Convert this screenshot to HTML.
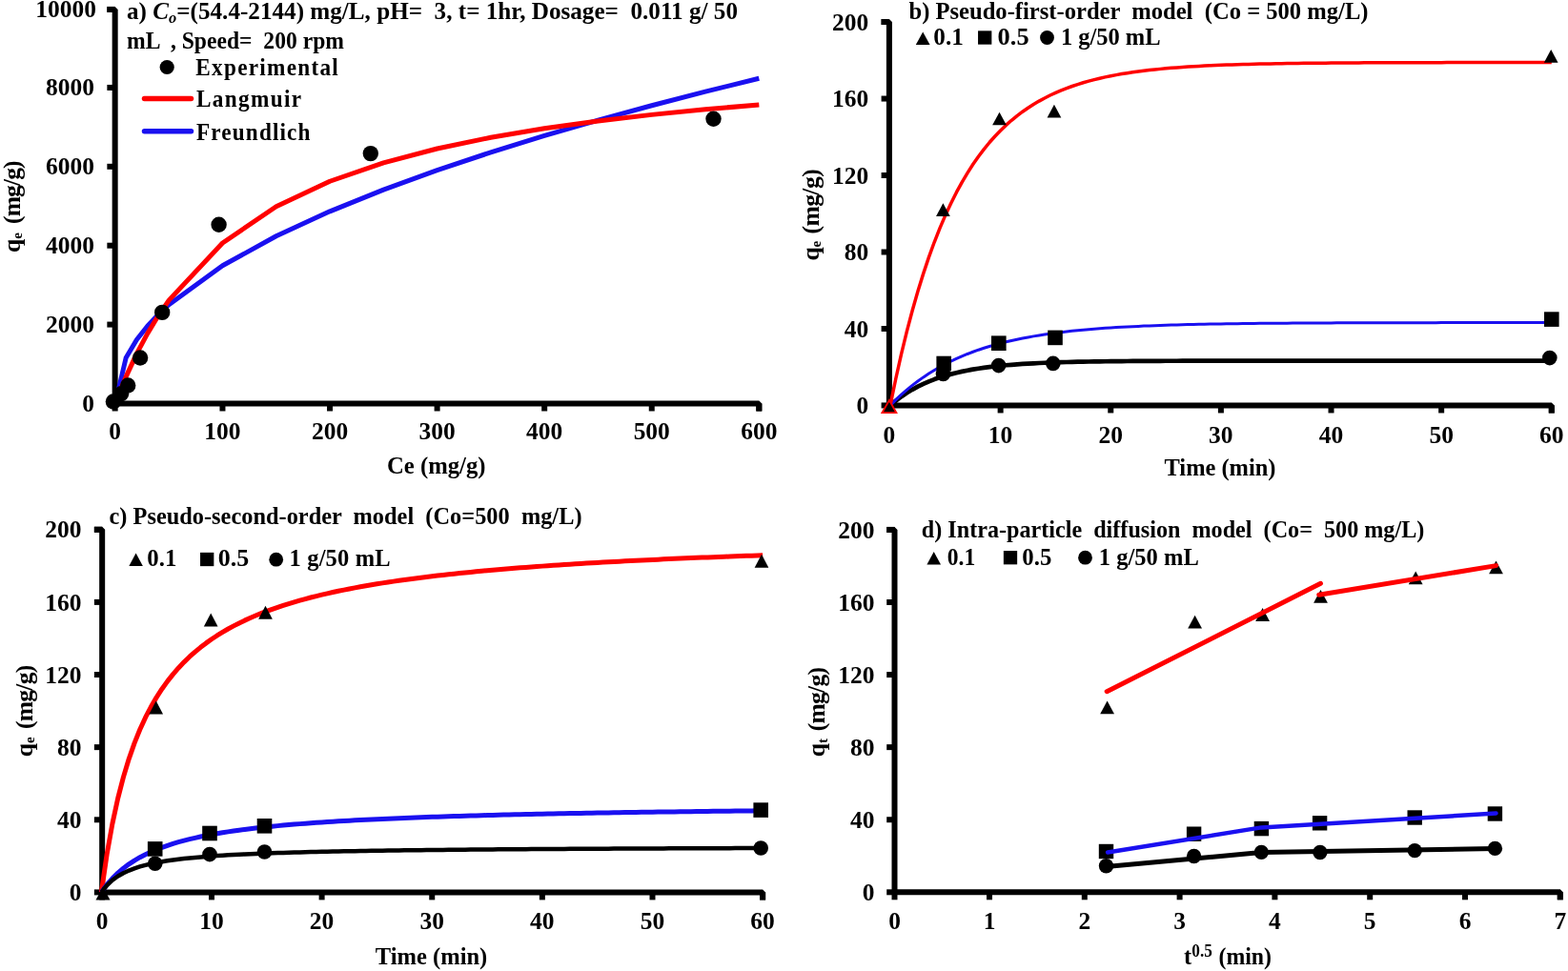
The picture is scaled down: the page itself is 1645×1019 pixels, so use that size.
<!DOCTYPE html>
<html><head><meta charset="utf-8"><style>
html,body{margin:0;padding:0;background:#fff;}
svg{display:block;}
text{font-family:"Liberation Serif", "Times New Roman", serif;font-weight:bold;fill:#000;white-space:pre;}
</style></head><body>
<svg width="1645" height="1019" viewBox="0 0 1645 1019" xml:space="preserve">
<rect width="1645" height="1019" fill="#fff"/>
<path d="M112.36,9.90 H120.66 V423.47 H796.32 V431.47" fill="none" stroke="#000" stroke-width="6.0" stroke-linejoin="bevel"/>
<line x1="112.36" y1="423.47" x2="120.66" y2="423.47" stroke="#000" stroke-width="6.0" stroke-linecap="butt"/>
<line x1="112.36" y1="340.58" x2="120.66" y2="340.58" stroke="#000" stroke-width="6.0" stroke-linecap="butt"/>
<line x1="112.36" y1="257.70" x2="120.66" y2="257.70" stroke="#000" stroke-width="6.0" stroke-linecap="butt"/>
<line x1="112.36" y1="174.81" x2="120.66" y2="174.81" stroke="#000" stroke-width="6.0" stroke-linecap="butt"/>
<line x1="112.36" y1="91.93" x2="120.66" y2="91.93" stroke="#000" stroke-width="6.0" stroke-linecap="butt"/>
<line x1="112.36" y1="9.90" x2="120.66" y2="9.90" stroke="#000" stroke-width="6.0" stroke-linecap="butt"/>
<line x1="120.66" y1="423.47" x2="120.66" y2="431.47" stroke="#000" stroke-width="6.0" stroke-linecap="butt"/>
<line x1="233.47" y1="423.47" x2="233.47" y2="431.47" stroke="#000" stroke-width="6.0" stroke-linecap="butt"/>
<line x1="346.04" y1="423.47" x2="346.04" y2="431.47" stroke="#000" stroke-width="6.0" stroke-linecap="butt"/>
<line x1="458.61" y1="423.47" x2="458.61" y2="431.47" stroke="#000" stroke-width="6.0" stroke-linecap="butt"/>
<line x1="571.18" y1="423.47" x2="571.18" y2="431.47" stroke="#000" stroke-width="6.0" stroke-linecap="butt"/>
<line x1="683.75" y1="423.47" x2="683.75" y2="431.47" stroke="#000" stroke-width="6.0" stroke-linecap="butt"/>
<line x1="796.32" y1="423.47" x2="796.32" y2="431.47" stroke="#000" stroke-width="6.0" stroke-linecap="butt"/>
<text x="99.00" y="431.87" font-size="24.5" text-anchor="end" textLength="12.7" lengthAdjust="spacingAndGlyphs">0</text>
<text x="99.00" y="348.98" font-size="24.5" text-anchor="end" textLength="51.0" lengthAdjust="spacingAndGlyphs">2000</text>
<text x="99.00" y="266.10" font-size="24.5" text-anchor="end" textLength="51.0" lengthAdjust="spacingAndGlyphs">4000</text>
<text x="99.00" y="183.21" font-size="24.5" text-anchor="end" textLength="51.0" lengthAdjust="spacingAndGlyphs">6000</text>
<text x="99.00" y="100.33" font-size="24.5" text-anchor="end" textLength="51.0" lengthAdjust="spacingAndGlyphs">8000</text>
<text x="101.00" y="18.30" font-size="24.5" text-anchor="end" textLength="63.7" lengthAdjust="spacingAndGlyphs">10000</text>
<text x="120.66" y="460.70" font-size="24.5" text-anchor="middle" textLength="12.7" lengthAdjust="spacingAndGlyphs">0</text>
<text x="233.47" y="460.70" font-size="24.5" text-anchor="middle" textLength="38.2" lengthAdjust="spacingAndGlyphs">100</text>
<text x="346.04" y="460.70" font-size="24.5" text-anchor="middle" textLength="38.2" lengthAdjust="spacingAndGlyphs">200</text>
<text x="458.61" y="460.70" font-size="24.5" text-anchor="middle" textLength="38.2" lengthAdjust="spacingAndGlyphs">300</text>
<text x="571.18" y="460.70" font-size="24.5" text-anchor="middle" textLength="38.2" lengthAdjust="spacingAndGlyphs">400</text>
<text x="683.75" y="460.70" font-size="24.5" text-anchor="middle" textLength="38.2" lengthAdjust="spacingAndGlyphs">500</text>
<text x="796.32" y="460.70" font-size="24.5" text-anchor="middle" textLength="38.2" lengthAdjust="spacingAndGlyphs">600</text>
<text x="406.00" y="497.10" font-size="24.5" text-anchor="start" textLength="103.5" lengthAdjust="spacingAndGlyphs">Ce (mg/g)</text>
<text transform="translate(20.60,201.70) rotate(-90)" font-size="25.5" text-anchor="middle" textLength="66.6" lengthAdjust="spacing">(mg/g)</text>
<text transform="translate(20.60,265.00) rotate(-90)" font-size="25.5">q<tspan font-size="15" dy="2.5">e</tspan></text>
<polyline points="120.90,423.47 132.16,375.46 143.41,356.55 154.67,342.21 165.93,330.20 177.19,319.68 233.47,278.81 289.75,247.80 346.04,221.85 402.32,199.10 458.61,178.63 514.89,159.86 571.18,142.45 627.46,126.14 683.75,110.75 740.03,96.14 796.32,82.21" fill="none" stroke="#1a10f0" stroke-width="5" stroke-linejoin="round" stroke-linecap="butt"/>
<polyline points="120.90,423.47 126.53,408.88 132.16,395.38 143.41,371.17 154.67,350.08 165.93,331.56 177.19,315.15 233.47,255.00 289.75,216.74 346.04,190.26 402.32,170.84 458.61,155.99 514.89,144.27 571.18,134.78 627.46,126.95 683.75,120.36 740.03,114.76 796.32,109.92" fill="none" stroke="#ff0000" stroke-width="5" stroke-linejoin="round" stroke-linecap="butt"/>
<circle cx="118.90" cy="421.50" r="8.2" fill="#000"/>
<circle cx="127.10" cy="413.20" r="8.2" fill="#000"/>
<circle cx="134.20" cy="404.50" r="8.2" fill="#000"/>
<circle cx="147.10" cy="375.50" r="8.2" fill="#000"/>
<circle cx="170.20" cy="327.90" r="8.2" fill="#000"/>
<circle cx="229.60" cy="235.80" r="8.2" fill="#000"/>
<circle cx="388.80" cy="161.10" r="8.2" fill="#000"/>
<circle cx="748.50" cy="124.80" r="8.2" fill="#000"/>
<text x="133" y="20" font-size="24.5" textLength="641" lengthAdjust="spacingAndGlyphs">a) <tspan font-style="italic">C</tspan><tspan font-style="italic" font-size="16" dy="4">o</tspan><tspan dy="-4">=(54.4-2144) mg/L, pH=  3, t= 1hr, Dosage=  0.011 g/ 50</tspan></text>
<text x="133.00" y="50.50" font-size="24.5" text-anchor="start" textLength="228.0" lengthAdjust="spacingAndGlyphs">mL  , Speed=  200 rpm</text>
<circle cx="175.20" cy="70.50" r="7.6" fill="#000"/>
<text transform="translate(205.30,79.20) scale(0.95,1)" font-size="24.5" textLength="157.4" lengthAdjust="spacing">Experimental</text>
<line x1="151.50" y1="103.50" x2="200.50" y2="103.50" stroke="#ff0000" stroke-width="5.5" stroke-linecap="round"/>
<text transform="translate(206.00,112.40) scale(0.95,1)" font-size="24.5" textLength="115.8" lengthAdjust="spacing">Langmuir</text>
<line x1="151.50" y1="137.80" x2="200.50" y2="137.80" stroke="#1a10f0" stroke-width="5.5" stroke-linecap="round"/>
<text transform="translate(206.00,146.50) scale(0.95,1)" font-size="24.5" textLength="125.8" lengthAdjust="spacing">Freundlich</text>
<path d="M924.60,23.07 H932.90 V425.45 H1627.78 V433.45" fill="none" stroke="#000" stroke-width="6.0" stroke-linejoin="bevel"/>
<line x1="924.60" y1="425.45" x2="932.90" y2="425.45" stroke="#000" stroke-width="6.0" stroke-linecap="butt"/>
<line x1="924.60" y1="344.97" x2="932.90" y2="344.97" stroke="#000" stroke-width="6.0" stroke-linecap="butt"/>
<line x1="924.60" y1="264.50" x2="932.90" y2="264.50" stroke="#000" stroke-width="6.0" stroke-linecap="butt"/>
<line x1="924.60" y1="184.02" x2="932.90" y2="184.02" stroke="#000" stroke-width="6.0" stroke-linecap="butt"/>
<line x1="924.60" y1="103.55" x2="932.90" y2="103.55" stroke="#000" stroke-width="6.0" stroke-linecap="butt"/>
<line x1="924.60" y1="23.07" x2="932.90" y2="23.07" stroke="#000" stroke-width="6.0" stroke-linecap="butt"/>
<line x1="932.90" y1="425.45" x2="932.90" y2="433.45" stroke="#000" stroke-width="6.0" stroke-linecap="butt"/>
<line x1="1049.63" y1="425.45" x2="1049.63" y2="433.45" stroke="#000" stroke-width="6.0" stroke-linecap="butt"/>
<line x1="1165.26" y1="425.45" x2="1165.26" y2="433.45" stroke="#000" stroke-width="6.0" stroke-linecap="butt"/>
<line x1="1280.89" y1="425.45" x2="1280.89" y2="433.45" stroke="#000" stroke-width="6.0" stroke-linecap="butt"/>
<line x1="1396.52" y1="425.45" x2="1396.52" y2="433.45" stroke="#000" stroke-width="6.0" stroke-linecap="butt"/>
<line x1="1512.15" y1="425.45" x2="1512.15" y2="433.45" stroke="#000" stroke-width="6.0" stroke-linecap="butt"/>
<line x1="1627.78" y1="425.45" x2="1627.78" y2="433.45" stroke="#000" stroke-width="6.0" stroke-linecap="butt"/>
<text x="911.30" y="434.35" font-size="24.5" text-anchor="end" textLength="12.7" lengthAdjust="spacingAndGlyphs">0</text>
<text x="911.30" y="353.87" font-size="24.5" text-anchor="end" textLength="25.5" lengthAdjust="spacingAndGlyphs">40</text>
<text x="911.30" y="273.40" font-size="24.5" text-anchor="end" textLength="25.5" lengthAdjust="spacingAndGlyphs">80</text>
<text x="911.30" y="192.92" font-size="24.5" text-anchor="end" textLength="38.2" lengthAdjust="spacingAndGlyphs">120</text>
<text x="911.30" y="112.45" font-size="24.5" text-anchor="end" textLength="38.2" lengthAdjust="spacingAndGlyphs">160</text>
<text x="911.30" y="31.97" font-size="24.5" text-anchor="end" textLength="38.2" lengthAdjust="spacingAndGlyphs">200</text>
<text x="932.90" y="465.10" font-size="24.5" text-anchor="middle" textLength="12.7" lengthAdjust="spacingAndGlyphs">0</text>
<text x="1049.63" y="465.10" font-size="24.5" text-anchor="middle" textLength="25.5" lengthAdjust="spacingAndGlyphs">10</text>
<text x="1165.26" y="465.10" font-size="24.5" text-anchor="middle" textLength="25.5" lengthAdjust="spacingAndGlyphs">20</text>
<text x="1280.89" y="465.10" font-size="24.5" text-anchor="middle" textLength="25.5" lengthAdjust="spacingAndGlyphs">30</text>
<text x="1396.52" y="465.10" font-size="24.5" text-anchor="middle" textLength="25.5" lengthAdjust="spacingAndGlyphs">40</text>
<text x="1512.15" y="465.10" font-size="24.5" text-anchor="middle" textLength="25.5" lengthAdjust="spacingAndGlyphs">50</text>
<text x="1627.78" y="465.10" font-size="24.5" text-anchor="middle" textLength="25.5" lengthAdjust="spacingAndGlyphs">60</text>
<text x="1221.50" y="498.70" font-size="24.5" text-anchor="start" textLength="117.0" lengthAdjust="spacingAndGlyphs">Time (min)</text>
<text transform="translate(858.70,211.45) rotate(-90)" font-size="25.5" text-anchor="middle" textLength="68.3" lengthAdjust="spacing">(mg/g)</text>
<text transform="translate(858.70,273.60) rotate(-90)" font-size="25.5">q<tspan font-size="15" dy="2.5">e</tspan></text>
<polyline points="934.00,425.45 939.78,420.59 945.56,416.23 951.34,412.32 957.13,408.82 962.91,405.69 968.69,402.87 974.47,400.35 980.25,398.09 986.03,396.07 991.82,394.26 997.60,392.63 1003.38,391.17 1009.16,389.86 1014.94,388.69 1020.72,387.64 1026.50,386.70 1032.29,385.86 1038.07,385.10 1043.85,384.43 1049.63,383.82 1055.41,383.27 1061.19,382.79 1066.97,382.35 1072.76,381.96 1078.54,381.61 1084.32,381.29 1090.10,381.01 1095.88,380.76 1101.66,380.53 1107.44,380.33 1113.23,380.15 1119.01,379.98 1124.79,379.84 1130.57,379.71 1136.35,379.59 1142.13,379.48 1147.92,379.39 1153.70,379.30 1159.48,379.23 1165.26,379.16 1171.04,379.10 1176.82,379.04 1182.60,379.00 1188.39,378.95 1194.17,378.91 1199.95,378.88 1205.73,378.85 1211.51,378.82 1217.29,378.79 1223.08,378.77 1228.86,378.75 1234.64,378.73 1240.42,378.71 1246.20,378.70 1251.98,378.69 1257.76,378.67 1263.55,378.66 1269.33,378.65 1275.11,378.65 1280.89,378.64 1286.67,378.63 1292.45,378.63 1298.23,378.62 1304.02,378.62 1309.80,378.61 1315.58,378.61 1321.36,378.60 1327.14,378.60 1332.92,378.60 1338.70,378.59 1344.49,378.59 1350.27,378.59 1356.05,378.59 1361.83,378.59 1367.61,378.59 1373.39,378.58 1379.18,378.58 1384.96,378.58 1390.74,378.58 1396.52,378.58 1402.30,378.58 1408.08,378.58 1413.86,378.58 1419.65,378.58 1425.43,378.58 1431.21,378.58 1436.99,378.58 1442.77,378.58 1448.55,378.58 1454.34,378.58 1460.12,378.57 1465.90,378.57 1471.68,378.57 1477.46,378.57 1483.24,378.57 1489.02,378.57 1494.81,378.57 1500.59,378.57 1506.37,378.57 1512.15,378.57 1517.93,378.57 1523.71,378.57 1529.49,378.57 1535.28,378.57 1541.06,378.57 1546.84,378.57 1552.62,378.57 1558.40,378.57 1564.18,378.57 1569.97,378.57 1575.75,378.57 1581.53,378.57 1587.31,378.57 1593.09,378.57 1598.87,378.57 1604.65,378.57 1610.44,378.57 1616.22,378.57 1622.00,378.57 1627.78,378.57" fill="none" stroke="#000" stroke-width="4.7" stroke-linejoin="round" stroke-linecap="butt"/>
<polyline points="934.00,425.45 939.78,419.63 945.56,414.20 951.34,409.14 957.13,404.41 962.91,400.00 968.69,395.88 974.47,392.04 980.25,388.46 986.03,385.12 991.82,382.00 997.60,379.09 1003.38,376.37 1009.16,373.84 1014.94,371.48 1020.72,369.27 1026.50,367.21 1032.29,365.29 1038.07,363.50 1043.85,361.83 1049.63,360.27 1055.41,358.82 1061.19,357.46 1066.97,356.19 1072.76,355.01 1078.54,353.91 1084.32,352.88 1090.10,351.92 1095.88,351.02 1101.66,350.18 1107.44,349.40 1113.23,348.68 1119.01,348.00 1124.79,347.36 1130.57,346.77 1136.35,346.22 1142.13,345.71 1147.92,345.23 1153.70,344.78 1159.48,344.36 1165.26,343.97 1171.04,343.61 1176.82,343.27 1182.60,342.95 1188.39,342.66 1194.17,342.38 1199.95,342.12 1205.73,341.88 1211.51,341.66 1217.29,341.45 1223.08,341.25 1228.86,341.07 1234.64,340.90 1240.42,340.74 1246.20,340.60 1251.98,340.46 1257.76,340.33 1263.55,340.21 1269.33,340.10 1275.11,339.99 1280.89,339.90 1286.67,339.80 1292.45,339.72 1298.23,339.64 1304.02,339.57 1309.80,339.50 1315.58,339.43 1321.36,339.37 1327.14,339.32 1332.92,339.26 1338.70,339.22 1344.49,339.17 1350.27,339.13 1356.05,339.09 1361.83,339.05 1367.61,339.02 1373.39,338.98 1379.18,338.95 1384.96,338.93 1390.74,338.90 1396.52,338.88 1402.30,338.85 1408.08,338.83 1413.86,338.81 1419.65,338.79 1425.43,338.78 1431.21,338.76 1436.99,338.75 1442.77,338.73 1448.55,338.72 1454.34,338.71 1460.12,338.69 1465.90,338.68 1471.68,338.67 1477.46,338.66 1483.24,338.66 1489.02,338.65 1494.81,338.64 1500.59,338.63 1506.37,338.63 1512.15,338.62 1517.93,338.62 1523.71,338.61 1529.49,338.60 1535.28,338.60 1541.06,338.60 1546.84,338.59 1552.62,338.59 1558.40,338.58 1564.18,338.58 1569.97,338.58 1575.75,338.58 1581.53,338.57 1587.31,338.57 1593.09,338.57 1598.87,338.57 1604.65,338.56 1610.44,338.56 1616.22,338.56 1622.00,338.56 1627.78,338.56" fill="none" stroke="#1a10f0" stroke-width="3" stroke-linejoin="round" stroke-linecap="butt"/>
<polyline points="934.00,425.45 939.78,397.50 945.56,371.71 951.34,347.93 957.13,326.00 962.91,305.77 968.69,287.11 974.47,269.90 980.25,254.02 986.03,239.38 991.82,225.88 997.60,213.42 1003.38,201.94 1009.16,191.34 1014.94,181.57 1020.72,172.56 1026.50,164.24 1032.29,156.58 1038.07,149.50 1043.85,142.98 1049.63,136.96 1055.41,131.42 1061.19,126.30 1066.97,121.58 1072.76,117.22 1078.54,113.21 1084.32,109.50 1090.10,106.09 1095.88,102.94 1101.66,100.03 1107.44,97.35 1113.23,94.88 1119.01,92.60 1124.79,90.50 1130.57,88.56 1136.35,86.77 1142.13,85.12 1147.92,83.59 1153.70,82.19 1159.48,80.90 1165.26,79.70 1171.04,78.60 1176.82,77.58 1182.60,76.65 1188.39,75.78 1194.17,74.99 1199.95,74.25 1205.73,73.57 1211.51,72.95 1217.29,72.37 1223.08,71.84 1228.86,71.35 1234.64,70.90 1240.42,70.48 1246.20,70.09 1251.98,69.74 1257.76,69.41 1263.55,69.11 1269.33,68.83 1275.11,68.57 1280.89,68.34 1286.67,68.12 1292.45,67.92 1298.23,67.73 1304.02,67.56 1309.80,67.40 1315.58,67.25 1321.36,67.12 1327.14,67.00 1332.92,66.88 1338.70,66.78 1344.49,66.68 1350.27,66.59 1356.05,66.51 1361.83,66.43 1367.61,66.36 1373.39,66.29 1379.18,66.23 1384.96,66.18 1390.74,66.13 1396.52,66.08 1402.30,66.04 1408.08,66.00 1413.86,65.96 1419.65,65.93 1425.43,65.89 1431.21,65.87 1436.99,65.84 1442.77,65.81 1448.55,65.79 1454.34,65.77 1460.12,65.75 1465.90,65.73 1471.68,65.72 1477.46,65.70 1483.24,65.69 1489.02,65.67 1494.81,65.66 1500.59,65.65 1506.37,65.64 1512.15,65.63 1517.93,65.62 1523.71,65.62 1529.49,65.61 1535.28,65.60 1541.06,65.60 1546.84,65.59 1552.62,65.58 1558.40,65.58 1564.18,65.57 1569.97,65.57 1575.75,65.57 1581.53,65.56 1587.31,65.56 1593.09,65.56 1598.87,65.55 1604.65,65.55 1610.44,65.55 1616.22,65.55 1622.00,65.54 1627.78,65.54" fill="none" stroke="#ff0000" stroke-width="3.5" stroke-linejoin="round" stroke-linecap="butt"/>
<polygon points="989.40,213.30 996.75,226.90 982.05,226.90" fill="#000"/>
<polygon points="1048.50,117.70 1055.85,131.30 1041.15,131.30" fill="#000"/>
<polygon points="1105.95,109.80 1113.30,123.40 1098.60,123.40" fill="#000"/>
<polygon points="1627.20,52.10 1634.55,65.70 1619.85,65.70" fill="#000"/>
<polygon points="932.90,420.00 940.40,433.20 925.40,433.20" fill="#000" stroke="#ff0000" stroke-width="1.8" stroke-linejoin="miter"/>
<rect x="982.40" y="373.70" width="15.6" height="15.6" fill="#000"/>
<rect x="1040.00" y="352.40" width="15.6" height="15.6" fill="#000"/>
<rect x="1099.20" y="346.60" width="15.6" height="15.6" fill="#000"/>
<rect x="1620.00" y="327.30" width="15.6" height="15.6" fill="#000"/>
<circle cx="989.50" cy="392.50" r="7.8" fill="#000"/>
<circle cx="1047.70" cy="383.60" r="7.8" fill="#000"/>
<circle cx="1104.80" cy="381.40" r="7.8" fill="#000"/>
<circle cx="1625.80" cy="375.60" r="7.8" fill="#000"/>
<text x="953.50" y="19.80" font-size="24.5" text-anchor="start" textLength="482.0" lengthAdjust="spacingAndGlyphs">b) Pseudo-first-order  model  (Co = 500 mg/L)</text>
<polygon points="968.20,33.50 975.60,46.90 960.80,46.90" fill="#000"/>
<text x="979.30" y="47.00" font-size="24.5" text-anchor="start" textLength="31.5" lengthAdjust="spacingAndGlyphs">0.1</text>
<rect x="1026.05" y="32.35" width="14.3" height="14.3" fill="#000"/>
<text x="1046.60" y="47.00" font-size="24.5" text-anchor="start" textLength="33.0" lengthAdjust="spacingAndGlyphs">0.5</text>
<circle cx="1098.50" cy="39.50" r="7.4" fill="#000"/>
<text x="1113.00" y="47.00" font-size="24.5" text-anchor="start" textLength="104.5" lengthAdjust="spacing">1 g/50 mL</text>
<path d="M98.87,555.78 H107.17 V936.40 H800.13 V944.40" fill="none" stroke="#000" stroke-width="6.0" stroke-linejoin="bevel"/>
<line x1="98.87" y1="936.40" x2="107.17" y2="936.40" stroke="#000" stroke-width="6.0" stroke-linecap="butt"/>
<line x1="98.87" y1="860.28" x2="107.17" y2="860.28" stroke="#000" stroke-width="6.0" stroke-linecap="butt"/>
<line x1="98.87" y1="784.15" x2="107.17" y2="784.15" stroke="#000" stroke-width="6.0" stroke-linecap="butt"/>
<line x1="98.87" y1="708.03" x2="107.17" y2="708.03" stroke="#000" stroke-width="6.0" stroke-linecap="butt"/>
<line x1="98.87" y1="631.90" x2="107.17" y2="631.90" stroke="#000" stroke-width="6.0" stroke-linecap="butt"/>
<line x1="98.87" y1="555.78" x2="107.17" y2="555.78" stroke="#000" stroke-width="6.0" stroke-linecap="butt"/>
<line x1="107.17" y1="936.40" x2="107.17" y2="944.40" stroke="#000" stroke-width="6.0" stroke-linecap="butt"/>
<line x1="221.98" y1="936.40" x2="221.98" y2="944.40" stroke="#000" stroke-width="6.0" stroke-linecap="butt"/>
<line x1="337.61" y1="936.40" x2="337.61" y2="944.40" stroke="#000" stroke-width="6.0" stroke-linecap="butt"/>
<line x1="453.24" y1="936.40" x2="453.24" y2="944.40" stroke="#000" stroke-width="6.0" stroke-linecap="butt"/>
<line x1="568.87" y1="936.40" x2="568.87" y2="944.40" stroke="#000" stroke-width="6.0" stroke-linecap="butt"/>
<line x1="684.50" y1="936.40" x2="684.50" y2="944.40" stroke="#000" stroke-width="6.0" stroke-linecap="butt"/>
<line x1="800.13" y1="936.40" x2="800.13" y2="944.40" stroke="#000" stroke-width="6.0" stroke-linecap="butt"/>
<text x="85.50" y="945.00" font-size="24.5" text-anchor="end" textLength="12.7" lengthAdjust="spacingAndGlyphs">0</text>
<text x="85.50" y="868.88" font-size="24.5" text-anchor="end" textLength="25.5" lengthAdjust="spacingAndGlyphs">40</text>
<text x="85.50" y="792.75" font-size="24.5" text-anchor="end" textLength="25.5" lengthAdjust="spacingAndGlyphs">80</text>
<text x="85.50" y="716.63" font-size="24.5" text-anchor="end" textLength="38.2" lengthAdjust="spacingAndGlyphs">120</text>
<text x="85.50" y="640.50" font-size="24.5" text-anchor="end" textLength="38.2" lengthAdjust="spacingAndGlyphs">160</text>
<text x="85.50" y="564.38" font-size="24.5" text-anchor="end" textLength="38.2" lengthAdjust="spacingAndGlyphs">200</text>
<text x="107.17" y="974.50" font-size="24.5" text-anchor="middle" textLength="12.7" lengthAdjust="spacingAndGlyphs">0</text>
<text x="221.98" y="974.50" font-size="24.5" text-anchor="middle" textLength="25.5" lengthAdjust="spacingAndGlyphs">10</text>
<text x="337.61" y="974.50" font-size="24.5" text-anchor="middle" textLength="25.5" lengthAdjust="spacingAndGlyphs">20</text>
<text x="453.24" y="974.50" font-size="24.5" text-anchor="middle" textLength="25.5" lengthAdjust="spacingAndGlyphs">30</text>
<text x="568.87" y="974.50" font-size="24.5" text-anchor="middle" textLength="25.5" lengthAdjust="spacingAndGlyphs">40</text>
<text x="684.50" y="974.50" font-size="24.5" text-anchor="middle" textLength="25.5" lengthAdjust="spacingAndGlyphs">50</text>
<text x="800.13" y="974.50" font-size="24.5" text-anchor="middle" textLength="25.5" lengthAdjust="spacingAndGlyphs">60</text>
<text x="393.80" y="1011.90" font-size="24.5" text-anchor="start" textLength="117.5" lengthAdjust="spacingAndGlyphs">Time (min)</text>
<text transform="translate(33.90,731.40) rotate(-90)" font-size="25.5" text-anchor="middle" textLength="67.4" lengthAdjust="spacing">(mg/g)</text>
<text transform="translate(33.90,794.30) rotate(-90)" font-size="25.5">q<tspan font-size="15" dy="2.5">e</tspan></text>
<polyline points="106.35,936.40 112.13,896.61 117.91,864.38 123.69,837.75 129.48,815.38 135.26,796.31 141.04,779.87 146.82,765.55 152.60,752.97 158.38,741.82 164.16,731.88 169.95,722.95 175.73,714.89 181.51,707.59 187.29,700.93 193.07,694.84 198.85,689.24 204.64,684.09 210.42,679.32 216.20,674.90 221.98,670.79 227.76,666.96 233.54,663.38 239.32,660.02 245.11,656.87 250.89,653.92 256.67,651.13 262.45,648.50 268.23,646.01 274.01,643.65 279.80,641.42 285.58,639.30 291.36,637.29 297.14,635.37 302.92,633.54 308.70,631.80 314.48,630.13 320.27,628.54 326.05,627.02 331.83,625.56 337.61,624.16 343.39,622.82 349.17,621.53 354.95,620.29 360.74,619.10 366.52,617.95 372.30,616.84 378.08,615.78 383.86,614.75 389.64,613.76 395.42,612.80 401.21,611.87 406.99,610.98 412.77,610.11 418.55,609.27 424.33,608.46 430.11,607.67 435.90,606.91 441.68,606.17 447.46,605.45 453.24,604.75 459.02,604.08 464.80,603.42 470.58,602.78 476.37,602.16 482.15,601.55 487.93,600.96 493.71,600.39 499.49,599.83 505.27,599.29 511.06,598.76 516.84,598.24 522.62,597.74 528.40,597.25 534.18,596.77 539.96,596.30 545.74,595.84 551.53,595.39 557.31,594.96 563.09,594.53 568.87,594.12 574.65,593.71 580.43,593.31 586.21,592.92 592.00,592.54 597.78,592.17 603.56,591.80 609.34,591.45 615.12,591.10 620.90,590.75 626.69,590.42 632.47,590.09 638.25,589.77 644.03,589.45 649.81,589.14 655.59,588.84 661.37,588.54 667.16,588.24 672.94,587.96 678.72,587.68 684.50,587.40 690.28,587.13 696.06,586.86 701.84,586.60 707.63,586.34 713.41,586.09 719.19,585.84 724.97,585.60 730.75,585.36 736.53,585.12 742.32,584.89 748.10,584.66 753.88,584.44 759.66,584.22 765.44,584.00 771.22,583.79 777.00,583.58 782.79,583.37 788.57,583.17 794.35,582.97 800.13,582.77" fill="none" stroke="#ff0000" stroke-width="5" stroke-linejoin="round" stroke-linecap="butt"/>
<polyline points="106.35,936.40 112.13,928.48 117.91,921.81 123.69,916.10 129.48,911.16 135.26,906.85 141.04,903.05 146.82,899.68 152.60,896.67 158.38,893.96 164.16,891.52 169.95,889.29 175.73,887.27 181.51,885.41 187.29,883.70 193.07,882.13 198.85,880.67 204.64,879.32 210.42,878.06 216.20,876.89 221.98,875.79 227.76,874.76 233.54,873.80 239.32,872.89 245.11,872.03 250.89,871.23 256.67,870.46 262.45,869.74 268.23,869.05 274.01,868.40 279.80,867.78 285.58,867.19 291.36,866.63 297.14,866.09 302.92,865.58 308.70,865.08 314.48,864.62 320.27,864.16 326.05,863.73 331.83,863.32 337.61,862.92 343.39,862.54 349.17,862.17 354.95,861.82 360.74,861.47 366.52,861.15 372.30,860.83 378.08,860.52 383.86,860.23 389.64,859.94 395.42,859.66 401.21,859.39 406.99,859.13 412.77,858.88 418.55,858.64 424.33,858.40 430.11,858.18 435.90,857.95 441.68,857.74 447.46,857.53 453.24,857.32 459.02,857.13 464.80,856.93 470.58,856.75 476.37,856.56 482.15,856.39 487.93,856.21 493.71,856.04 499.49,855.88 505.27,855.72 511.06,855.56 516.84,855.41 522.62,855.26 528.40,855.12 534.18,854.98 539.96,854.84 545.74,854.70 551.53,854.57 557.31,854.44 563.09,854.32 568.87,854.19 574.65,854.07 580.43,853.95 586.21,853.84 592.00,853.72 597.78,853.61 603.56,853.51 609.34,853.40 615.12,853.30 620.90,853.19 626.69,853.09 632.47,853.00 638.25,852.90 644.03,852.80 649.81,852.71 655.59,852.62 661.37,852.53 667.16,852.44 672.94,852.36 678.72,852.27 684.50,852.19 690.28,852.11 696.06,852.03 701.84,851.95 707.63,851.88 713.41,851.80 719.19,851.73 724.97,851.65 730.75,851.58 736.53,851.51 742.32,851.44 748.10,851.37 753.88,851.30 759.66,851.24 765.44,851.17 771.22,851.11 777.00,851.05 782.79,850.98 788.57,850.92 794.35,850.86 800.13,850.80" fill="none" stroke="#1a10f0" stroke-width="5" stroke-linejoin="round" stroke-linecap="butt"/>
<polyline points="106.35,936.40 112.13,929.06 117.91,923.64 123.69,919.49 129.48,916.20 135.26,913.53 141.04,911.32 146.82,909.45 152.60,907.87 158.38,906.50 164.16,905.30 169.95,904.25 175.73,903.32 181.51,902.49 187.29,901.74 193.07,901.07 198.85,900.46 204.64,899.90 210.42,899.39 216.20,898.92 221.98,898.49 227.76,898.09 233.54,897.72 239.32,897.37 245.11,897.05 250.89,896.75 256.67,896.47 262.45,896.21 268.23,895.96 274.01,895.72 279.80,895.50 285.58,895.29 291.36,895.10 297.14,894.91 302.92,894.73 308.70,894.56 314.48,894.40 320.27,894.25 326.05,894.10 331.83,893.96 337.61,893.83 343.39,893.70 349.17,893.57 354.95,893.46 360.74,893.34 366.52,893.23 372.30,893.13 378.08,893.03 383.86,892.93 389.64,892.84 395.42,892.75 401.21,892.66 406.99,892.58 412.77,892.50 418.55,892.42 424.33,892.35 430.11,892.27 435.90,892.20 441.68,892.13 447.46,892.07 453.24,892.00 459.02,891.94 464.80,891.88 470.58,891.82 476.37,891.77 482.15,891.71 487.93,891.66 493.71,891.60 499.49,891.55 505.27,891.50 511.06,891.45 516.84,891.41 522.62,891.36 528.40,891.32 534.18,891.27 539.96,891.23 545.74,891.19 551.53,891.15 557.31,891.11 563.09,891.07 568.87,891.03 574.65,891.00 580.43,890.96 586.21,890.93 592.00,890.89 597.78,890.86 603.56,890.83 609.34,890.79 615.12,890.76 620.90,890.73 626.69,890.70 632.47,890.67 638.25,890.64 644.03,890.61 649.81,890.59 655.59,890.56 661.37,890.53 667.16,890.51 672.94,890.48 678.72,890.46 684.50,890.43 690.28,890.41 696.06,890.38 701.84,890.36 707.63,890.34 713.41,890.31 719.19,890.29 724.97,890.27 730.75,890.25 736.53,890.23 742.32,890.21 748.10,890.19 753.88,890.17 759.66,890.15 765.44,890.13 771.22,890.11 777.00,890.09 782.79,890.07 788.57,890.06 794.35,890.04 800.13,890.02" fill="none" stroke="#000" stroke-width="4.5" stroke-linejoin="round" stroke-linecap="butt"/>
<polygon points="163.70,735.60 171.05,749.60 156.35,749.60" fill="#000"/>
<polygon points="221.20,643.40 228.55,657.40 213.85,657.40" fill="#000"/>
<polygon points="278.50,635.80 285.85,649.80 271.15,649.80" fill="#000"/>
<polygon points="799.00,581.70 806.35,595.70 791.65,595.70" fill="#000"/>
<polygon points="108.00,930.50 115.50,944.50 100.50,944.50" fill="#000"/>
<rect x="154.90" y="883.10" width="15.6" height="15.6" fill="#000"/>
<rect x="212.20" y="866.70" width="15.6" height="15.6" fill="#000"/>
<rect x="269.70" y="859.00" width="15.6" height="15.6" fill="#000"/>
<rect x="790.40" y="842.30" width="15.6" height="15.6" fill="#000"/>
<circle cx="162.70" cy="906.20" r="7.8" fill="#000"/>
<circle cx="220.00" cy="896.60" r="7.8" fill="#000"/>
<circle cx="277.50" cy="894.00" r="7.8" fill="#000"/>
<circle cx="798.20" cy="890.00" r="7.8" fill="#000"/>
<text x="114.50" y="550.30" font-size="24.5" text-anchor="start" textLength="496.0" lengthAdjust="spacingAndGlyphs">c) Pseudo-second-order  model  (Co=500  mg/L)</text>
<polygon points="142.60,580.45 149.85,593.95 135.35,593.95" fill="#000"/>
<text x="154.30" y="594.00" font-size="24.5" text-anchor="start" textLength="31.0" lengthAdjust="spacingAndGlyphs">0.1</text>
<rect x="210.05" y="579.85" width="14.3" height="14.3" fill="#000"/>
<text x="228.70" y="594.00" font-size="24.5" text-anchor="start" textLength="32.5" lengthAdjust="spacingAndGlyphs">0.5</text>
<circle cx="289.70" cy="587.20" r="7.4" fill="#000"/>
<text x="303.60" y="594.00" font-size="24.5" text-anchor="start" textLength="106.0" lengthAdjust="spacing">1 g/50 mL</text>
<path d="M930.20,555.90 H938.50 V936.30 H1636.80 V944.30" fill="none" stroke="#000" stroke-width="6.0" stroke-linejoin="bevel"/>
<line x1="930.20" y1="936.30" x2="938.50" y2="936.30" stroke="#000" stroke-width="6.0" stroke-linecap="butt"/>
<line x1="930.20" y1="860.22" x2="938.50" y2="860.22" stroke="#000" stroke-width="6.0" stroke-linecap="butt"/>
<line x1="930.20" y1="784.14" x2="938.50" y2="784.14" stroke="#000" stroke-width="6.0" stroke-linecap="butt"/>
<line x1="930.20" y1="708.06" x2="938.50" y2="708.06" stroke="#000" stroke-width="6.0" stroke-linecap="butt"/>
<line x1="930.20" y1="631.98" x2="938.50" y2="631.98" stroke="#000" stroke-width="6.0" stroke-linecap="butt"/>
<line x1="930.20" y1="555.90" x2="938.50" y2="555.90" stroke="#000" stroke-width="6.0" stroke-linecap="butt"/>
<line x1="938.50" y1="936.30" x2="938.50" y2="944.30" stroke="#000" stroke-width="6.0" stroke-linecap="butt"/>
<line x1="1038.00" y1="936.30" x2="1038.00" y2="944.30" stroke="#000" stroke-width="6.0" stroke-linecap="butt"/>
<line x1="1137.80" y1="936.30" x2="1137.80" y2="944.30" stroke="#000" stroke-width="6.0" stroke-linecap="butt"/>
<line x1="1237.60" y1="936.30" x2="1237.60" y2="944.30" stroke="#000" stroke-width="6.0" stroke-linecap="butt"/>
<line x1="1337.40" y1="936.30" x2="1337.40" y2="944.30" stroke="#000" stroke-width="6.0" stroke-linecap="butt"/>
<line x1="1437.20" y1="936.30" x2="1437.20" y2="944.30" stroke="#000" stroke-width="6.0" stroke-linecap="butt"/>
<line x1="1537.00" y1="936.30" x2="1537.00" y2="944.30" stroke="#000" stroke-width="6.0" stroke-linecap="butt"/>
<line x1="1636.80" y1="936.30" x2="1636.80" y2="944.30" stroke="#000" stroke-width="6.0" stroke-linecap="butt"/>
<text x="917.50" y="944.90" font-size="24.5" text-anchor="end" textLength="12.7" lengthAdjust="spacingAndGlyphs">0</text>
<text x="917.50" y="868.82" font-size="24.5" text-anchor="end" textLength="25.5" lengthAdjust="spacingAndGlyphs">40</text>
<text x="917.50" y="792.74" font-size="24.5" text-anchor="end" textLength="25.5" lengthAdjust="spacingAndGlyphs">80</text>
<text x="917.50" y="716.66" font-size="24.5" text-anchor="end" textLength="38.2" lengthAdjust="spacingAndGlyphs">120</text>
<text x="917.50" y="640.58" font-size="24.5" text-anchor="end" textLength="38.2" lengthAdjust="spacingAndGlyphs">160</text>
<text x="917.50" y="564.50" font-size="24.5" text-anchor="end" textLength="38.2" lengthAdjust="spacingAndGlyphs">200</text>
<text x="938.50" y="975.00" font-size="24.5" text-anchor="middle" textLength="12.7" lengthAdjust="spacingAndGlyphs">0</text>
<text x="1038.00" y="975.00" font-size="24.5" text-anchor="middle" textLength="12.7" lengthAdjust="spacingAndGlyphs">1</text>
<text x="1137.80" y="975.00" font-size="24.5" text-anchor="middle" textLength="12.7" lengthAdjust="spacingAndGlyphs">2</text>
<text x="1237.60" y="975.00" font-size="24.5" text-anchor="middle" textLength="12.7" lengthAdjust="spacingAndGlyphs">3</text>
<text x="1337.40" y="975.00" font-size="24.5" text-anchor="middle" textLength="12.7" lengthAdjust="spacingAndGlyphs">4</text>
<text x="1437.20" y="975.00" font-size="24.5" text-anchor="middle" textLength="12.7" lengthAdjust="spacingAndGlyphs">5</text>
<text x="1537.00" y="975.00" font-size="24.5" text-anchor="middle" textLength="12.7" lengthAdjust="spacingAndGlyphs">6</text>
<text x="1636.80" y="975.00" font-size="24.5" text-anchor="middle" textLength="12.7" lengthAdjust="spacingAndGlyphs">7</text>
<text x="1242" y="1011.5" font-size="24.5">t</text>
<text x="1250.3" y="1004" font-size="18.5" textLength="21.5" lengthAdjust="spacingAndGlyphs">0.5</text>
<text x="1278.50" y="1011.50" font-size="24.5" text-anchor="start" textLength="55.5" lengthAdjust="spacingAndGlyphs">(min)</text>
<text transform="translate(865.30,733.60) rotate(-90)" font-size="25.5" text-anchor="middle" textLength="67.4" lengthAdjust="spacing">(mg/g)</text>
<text transform="translate(865.30,794.30) rotate(-90)" font-size="25.5">q<tspan font-size="15" dy="2.5">t</tspan></text>
<polygon points="1161.60,735.40 1169.00,749.20 1154.20,749.20" fill="#000"/>
<polygon points="1253.60,645.70 1261.00,659.50 1246.20,659.50" fill="#000"/>
<polygon points="1324.60,638.10 1332.00,651.90 1317.20,651.90" fill="#000"/>
<polygon points="1385.50,618.90 1392.90,632.70 1378.10,632.70" fill="#000"/>
<polygon points="1485.20,599.40 1492.60,613.20 1477.80,613.20" fill="#000"/>
<polygon points="1569.50,588.50 1576.90,602.30 1562.10,602.30" fill="#000"/>
<rect x="1152.80" y="885.80" width="15.4" height="15.4" fill="#000"/>
<rect x="1244.90" y="867.50" width="15.4" height="15.4" fill="#000"/>
<rect x="1315.70" y="861.90" width="15.4" height="15.4" fill="#000"/>
<rect x="1376.90" y="856.10" width="15.4" height="15.4" fill="#000"/>
<rect x="1476.50" y="850.30" width="15.4" height="15.4" fill="#000"/>
<rect x="1560.70" y="846.30" width="15.4" height="15.4" fill="#000"/>
<circle cx="1160.50" cy="908.80" r="7.7" fill="#000"/>
<circle cx="1252.60" cy="898.50" r="7.7" fill="#000"/>
<circle cx="1323.30" cy="894.40" r="7.7" fill="#000"/>
<circle cx="1384.90" cy="894.50" r="7.7" fill="#000"/>
<circle cx="1484.20" cy="892.60" r="7.7" fill="#000"/>
<circle cx="1568.40" cy="890.40" r="7.7" fill="#000"/>
<polyline points="1161.20,725.70 1385.50,612.30" fill="none" stroke="#ff0000" stroke-width="5" stroke-linejoin="round" stroke-linecap="round"/>
<polyline points="1383.70,624.20 1569.50,593.60" fill="none" stroke="#ff0000" stroke-width="5" stroke-linejoin="round" stroke-linecap="round"/>
<polyline points="1162.10,894.50 1323.30,868.40 1569.50,853.50" fill="none" stroke="#1a10f0" stroke-width="4.5" stroke-linejoin="round" stroke-linecap="round"/>
<polyline points="1160.50,909.50 1323.30,894.60 1569.00,890.60" fill="none" stroke="#000" stroke-width="5" stroke-linejoin="round" stroke-linecap="round"/>
<text x="966.80" y="563.90" font-size="24.5" text-anchor="start" textLength="527.5" lengthAdjust="spacingAndGlyphs">d) Intra-particle  diffusion  model  (Co=  500 mg/L)</text>
<polygon points="979.70,579.10 987.00,592.50 972.40,592.50" fill="#000"/>
<text x="993.80" y="592.50" font-size="24.5" text-anchor="start" textLength="29.5" lengthAdjust="spacingAndGlyphs">0.1</text>
<rect x="1052.85" y="578.05" width="14.3" height="14.3" fill="#000"/>
<text x="1072.30" y="592.50" font-size="24.5" text-anchor="start" textLength="31.0" lengthAdjust="spacingAndGlyphs">0.5</text>
<circle cx="1138.50" cy="585.20" r="7.4" fill="#000"/>
<text x="1152.80" y="592.50" font-size="24.5" text-anchor="start" textLength="105.0" lengthAdjust="spacing">1 g/50 mL</text>
</svg></body></html>
